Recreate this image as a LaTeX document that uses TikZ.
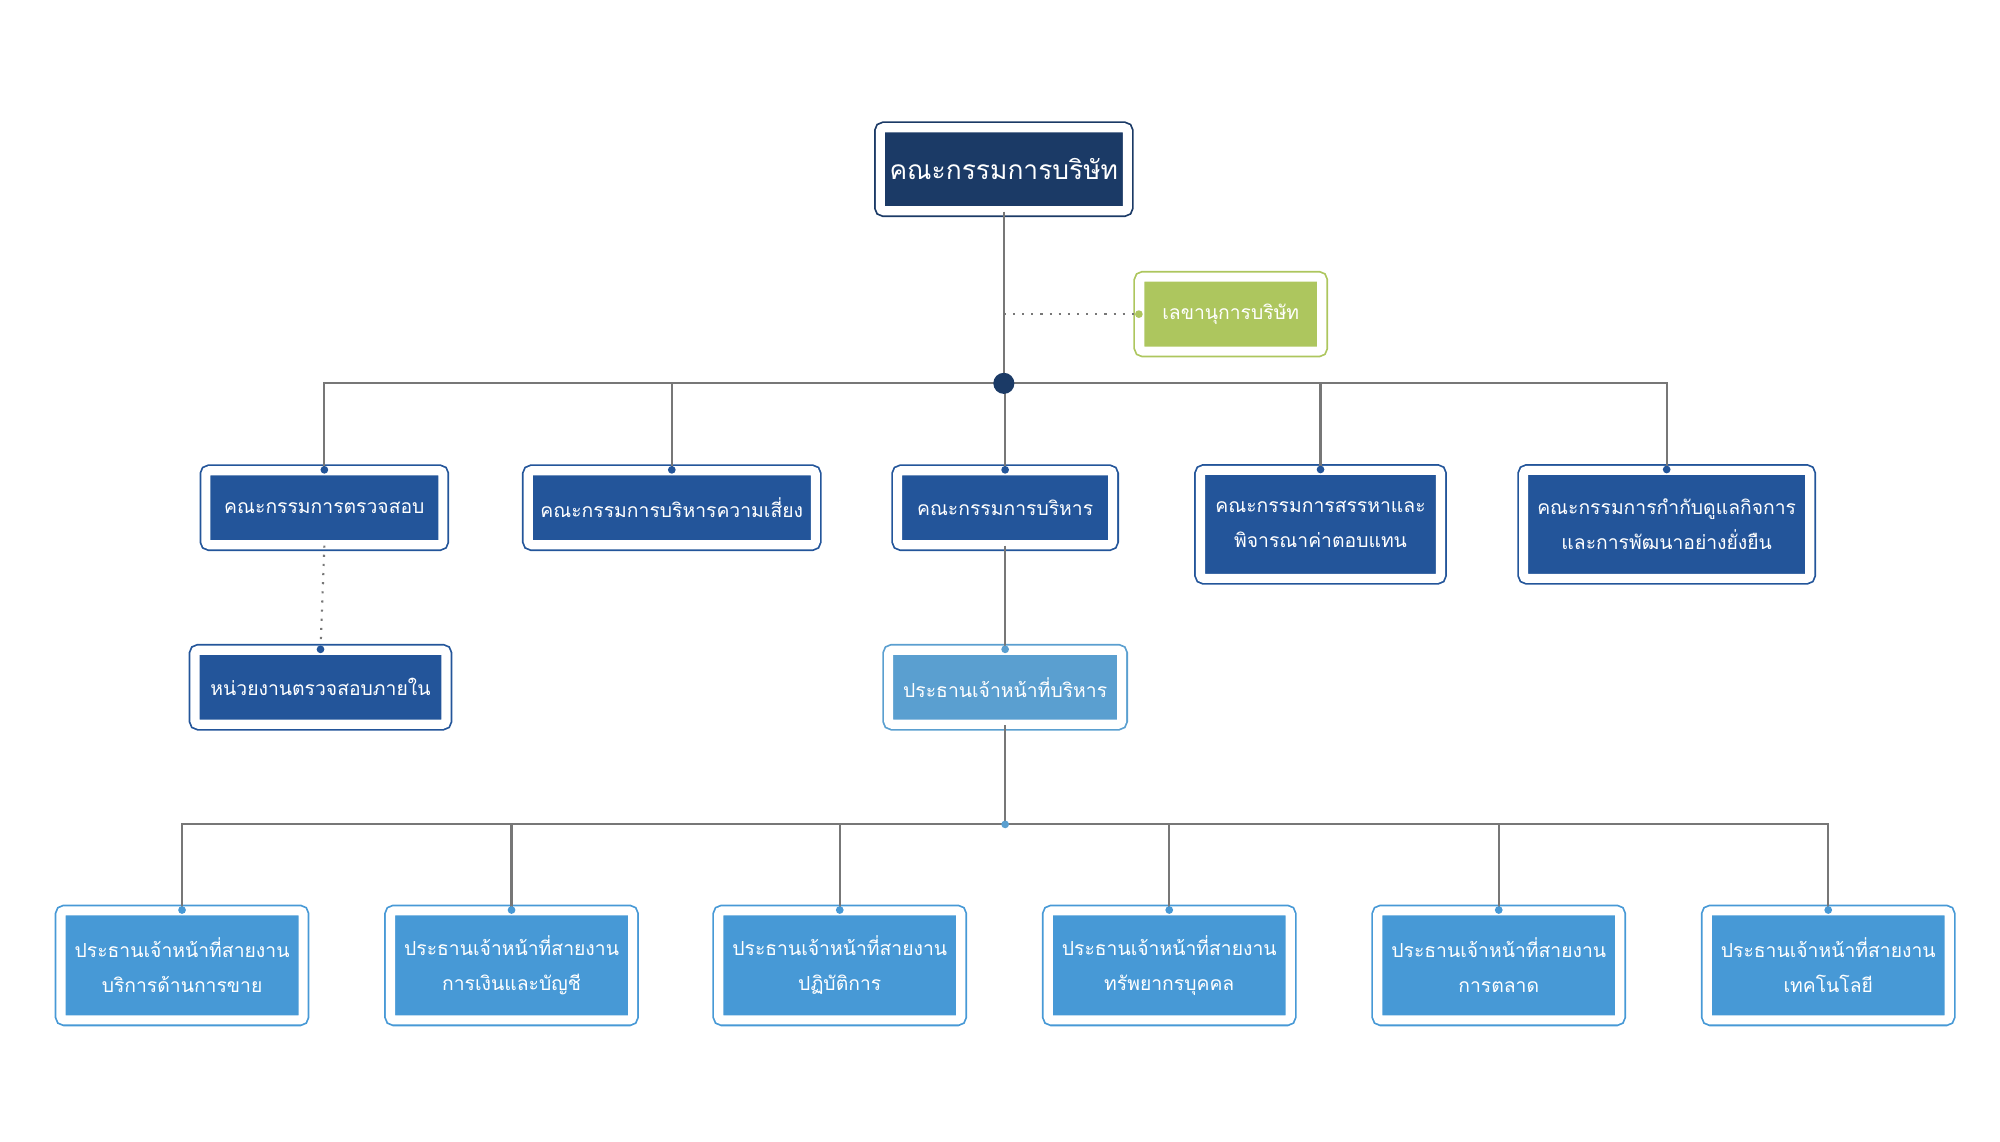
\documentclass[tikz,border=0pt]{standalone}
\usepackage{fontspec}
\setmainfont[Script=Thai]{Loma}
\definecolor{navy}{HTML}{1B3A66}
\definecolor{midblue}{HTML}{23559A}
\definecolor{ceoblue}{HTML}{5A9FD0}
\definecolor{lightblue}{HTML}{4799D6}
\definecolor{olive}{HTML}{ADC65E}
\definecolor{wire}{HTML}{777777}
\begin{document}
\begin{tikzpicture}[
        x=0.01282cm, y=-0.01282cm,
        box/.style={rectangle, rounded corners=1pt, text=white, align=center, inner sep=0pt,
            font=\fontsize{5.5}{10}\selectfont, line width=0.5pt, double=white, double distance=2.6pt},
        board/.style={box, fill=navy, draw=navy, font=\fontsize{7.5}{10}\selectfont},
        comm/.style={box, fill=midblue, draw=midblue, minimum height=0.74cm},
        commtwo/.style={box, fill=midblue, draw=midblue, minimum height=1.08cm},
        chief/.style={box, fill=ceoblue, draw=ceoblue, minimum width=2.33cm, minimum height=0.74cm},
        line/.style={box, fill=lightblue, draw=lightblue, minimum width=2.42cm, minimum height=1.09cm},
        secbox/.style={box, fill=olive, draw=olive, minimum width=1.82cm, minimum height=0.74cm},
        edge/.style={draw=wire, line width=0.6pt},
        dotted edge/.style={draw=wire, line width=0.6pt, dotted},
        tip/.style={circle, fill=#1, minimum size=2.2pt, inner sep=0pt}
    ]
        \useasboundingbox (0,0) rectangle (1560,890);

        % top level
        \node[board, minimum width=2.47cm, minimum height=0.83cm] (board) at (783,132) {คณะกรรมการบริษัท};
        \node[secbox] (secretary) at (960,245) {เลขานุการบริษัท};
        \coordinate (sec_hub) at (783,245);
        \coordinate (hub) at (783,299);

        % committees
        \node[comm, minimum width=2.37cm] (audit) at (253,396) {คณะกรรมการตรวจสอบ};
        \node[comm, minimum width=2.87cm] (risk) at (524,396) {คณะกรรมการบริหารความเสี่ยง};
        \node[comm, minimum width=2.15cm] (exec) at (784,396) {คณะกรรมการบริหาร};
        \node[commtwo, minimum width=2.40cm] (nomination) at (1030,409) {คณะกรรมการสรรหาและ\\พิจารณาค่าตอบแทน};
        \node[commtwo, minimum width=2.86cm] (governance) at (1300,409) {คณะกรรมการกำกับดูแลกิจการ\\และการพัฒนาอย่างยั่งยืน};

        \node[comm, minimum width=2.51cm] (internal) at (250,536) {หน่วยงานตรวจสอบภายใน};
        \node[chief] (ceo) at (784,536) {ประธานเจ้าหน้าที่บริหาร};
        \coordinate (ceo_hub) at (784,643);

        % business lines
        \node[line] (sales) at (142,753) {ประธานเจ้าหน้าที่สายงาน\\บริการด้านการขาย};
        \node[line] (finance) at (399,753) {ประธานเจ้าหน้าที่สายงาน\\การเงินและบัญชี};
        \node[line] (operation) at (655,753) {ประธานเจ้าหน้าที่สายงาน\\ปฏิบัติการ};
        \node[line] (hr) at (912,753) {ประธานเจ้าหน้าที่สายงาน\\ทรัพยากรบุคคล};
        \node[line] (marketing) at (1169,753) {ประธานเจ้าหน้าที่สายงาน\\การตลาด};
        \node[line] (tech) at (1426,753) {ประธานเจ้าหน้าที่สายงาน\\เทคโนโลยี};

        % connectors
        \draw[edge] (board.south) -- (hub);
        \draw[dotted edge] (sec_hub) -- (secretary.west);
        \node[tip=olive] at (secretary.west) {};
        \foreach \c in {audit, risk, exec, nomination, governance} {
            \draw[edge] (hub) -| (\c.north);
            \node[tip=midblue] at (\c.north) {};
        }
        \node[circle, fill=navy, minimum size=6pt, inner sep=0pt] at (hub) {};
        \draw[dotted edge] (audit.south) -- (internal.north);
        \node[tip=midblue] at (internal.north) {};
        \draw[edge] (exec.south) -- (ceo.north);
        \node[tip=ceoblue] at (ceo.north) {};
        \draw[edge] (ceo.south) -- (ceo_hub);
        \foreach \c in {sales, finance, operation, hr, marketing, tech} {
            \draw[edge] (ceo_hub) -| (\c.north);
            \node[tip=lightblue] at (\c.north) {};
        }
        \node[tip=ceoblue] at (ceo_hub) {};
    \end{tikzpicture}
\end{document}
